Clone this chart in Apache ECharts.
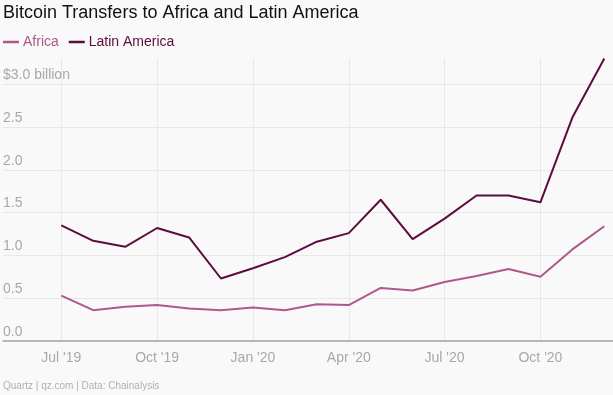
<!DOCTYPE html>
<html>
<head>
<meta charset="utf-8">
<script src="https://cdn.jsdelivr.net/npm/echarts@6/dist/echarts.min.js"></script>
<style>
html,body{margin:0;padding:0;background:#f9f9f9;}
#chart{width:613px;height:395px;}
</style>
</head>
<body>
<div id="chart"></div>
<script>
const months = ["Jul '19","Aug '19","Sep '19","Oct '19","Nov '19","Dec '19","Jan '20","Feb '20","Mar '20","Apr '20","May '20","Jun '20","Jul '20","Aug '20","Sep '20","Oct '20","Nov '20","Dec '20"];
const africa = [0.53,0.36,0.40,0.42,0.38,0.36,0.39,0.36,0.43,0.42,0.62,0.59,0.69,0.76,0.84,0.75,1.07,1.34];
const latinAmerica = [1.35,1.17,1.10,1.32,1.21,0.73,0.85,0.98,1.16,1.26,1.65,1.19,1.43,1.70,1.70,1.62,2.61,3.30];
const yTicks = ["0.0","0.5","1.0","1.5","2.0","2.5","$3.0 billion"];
const chartTitle = "Bitcoin Transfers to Africa and Latin America";
const source = "Quartz | qz.com | Data: Chainalysis";

const FONT = "'Liberation Sans', Arial, sans-serif";
const chart = echarts.init(document.getElementById('chart'));
const gTop = 58.5, gBottom = 54;
chart.setOption({
  backgroundColor: '#f9f9f9',
  animation: false,
  textStyle: {fontFamily: FONT},
  title: [
    {text: chartTitle, left: 3, top: 4, padding: 0,
     textStyle: {fontFamily: FONT, fontSize: 18, fontWeight: 'normal', color: '#111'}},
    {text: source, left: 3, top: 381, padding: 0,
     textStyle: {fontFamily: FONT, fontSize: 10, fontWeight: 'normal', color: '#b0b0b0'}}
  ],
  legend: {
    left: 3, top: 35, padding: 0, itemWidth: 16, itemHeight: 2.5, itemGap: 10,
    icon: 'rect',
    textStyle: {fontFamily: FONT, fontSize: 14, padding: [0, 0, 0, -1]},
    data: [
      {name: 'Africa', textStyle: {color: '#b0588b'}},
      {name: 'Latin America', textStyle: {color: '#5c0c3f'}}
    ]
  },
  grid: [
    {left: 3, right: 0, top: gTop, bottom: gBottom},
    {left: 61.3, right: 8.7, top: gTop, bottom: gBottom}
  ],
  xAxis: [
    {type: 'value', gridIndex: 0, min: 0, max: 1,
     axisLine: {show: true, lineStyle: {color: '#a0a0a0', width: 1.5}},
     axisTick: {show: false}, axisLabel: {show: false}, splitLine: {show: false}},
    {type: 'category', gridIndex: 1, data: months, boundaryGap: false,
     axisLine: {show: false}, axisTick: {show: false},
     axisLabel: {interval: 2, color: '#a8a8a8', fontSize: 14, margin: 10, fontFamily: FONT},
     splitLine: {show: true, interval: 2, lineStyle: {color: '#e8e8e8', width: 1}}}
  ],
  yAxis: [
    {type: 'value', gridIndex: 0, min: 0, max: 3.3, interval: 0.5,
     axisLine: {show: false}, axisTick: {show: false},
     axisLabel: {inside: true, margin: 0, verticalAlign: 'bottom', padding: [0, 0, 2, 0],
       color: '#a8a8a8', fontSize: 14, fontFamily: FONT, showMaxLabel: false,
       formatter: function (v) { const i = Math.round(v / 0.5); return (Math.abs(v - i * 0.5) < 1e-6 && i < yTicks.length) ? yTicks[i] : ''; }},
     splitLine: {show: true, showMaxLine: false, showMinLine: false, lineStyle: {color: '#e8e8e8', width: 1}}},
    {type: 'value', gridIndex: 1, min: 0, max: 3.3, show: false, splitLine: {show: false}}
  ],
  series: [
    {name: 'Africa', type: 'line', xAxisIndex: 1, yAxisIndex: 1, data: africa,
     symbol: 'none', color: '#b0588b', lineStyle: {width: 2, color: '#b0588b'}},
    {name: 'Latin America', type: 'line', xAxisIndex: 1, yAxisIndex: 1, data: latinAmerica,
     symbol: 'none', color: '#5c0c3f', lineStyle: {width: 2, color: '#5c0c3f'}}
  ]
});
</script>
</body>
</html>
